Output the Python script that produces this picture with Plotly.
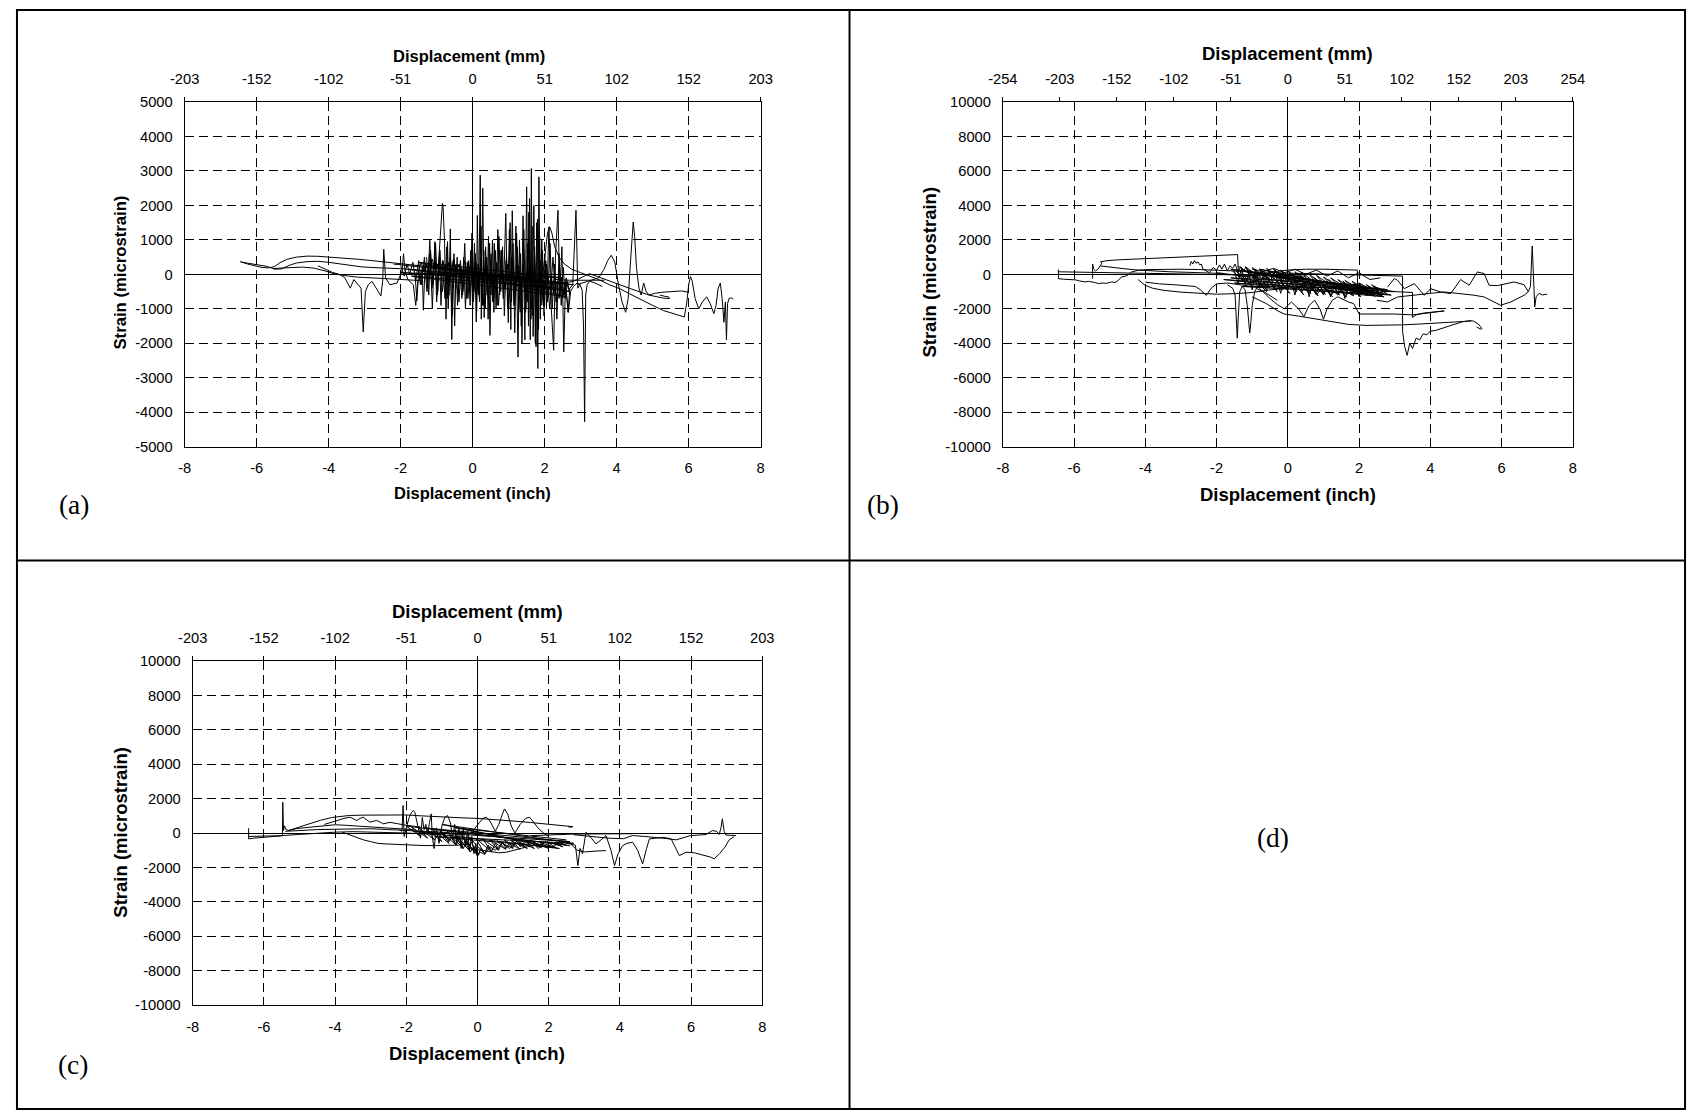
import plotly.graph_objects as go

# ---------------- tick values / labels ----------------
INCH_TICKS = [-8, -6, -4, -2, 0, 2, 4, 6, 8]
INCH_LABELS = ['-8', '-6', '-4', '-2', '0', '2', '4', '6', '8']
MM_TICKS_203 = [-203.2, -152.4, -101.6, -50.8, 0, 50.8, 101.6, 152.4, 203.2]
MM_LABELS_203 = ['-203', '-152', '-102', '-51', '0', '51', '102', '152', '203']
MM_TICKS_254 = [-254, -203.2, -152.4, -101.6, -50.8, 0, 50.8, 101.6, 152.4, 203.2, 254]
MM_LABELS_254 = ['-254', '-203', '-152', '-102', '-51', '0', '51', '102', '152', '203', '254']
STRAIN_TICKS_A = [-5000, -4000, -3000, -2000, -1000, 0, 1000, 2000, 3000, 4000, 5000]
STRAIN_LABELS_A = ['-5000', '-4000', '-3000', '-2000', '-1000', '0', '1000', '2000', '3000', '4000', '5000']
STRAIN_TICKS_BC = [-10000, -8000, -6000, -4000, -2000, 0, 2000, 4000, 6000, 8000, 10000]
STRAIN_LABELS_BC = ['-10000', '-8000', '-6000', '-4000', '-2000', '0', '2000', '4000', '6000', '8000', '10000']

# ---------------- panel (a) data: displacement (inch), strain (microstrain) ----------------
A1_X = [-6.45, -6.40, -6.25, -6.05, -5.85, -5.65, -5.50, -5.35, -5.15, -4.90, -4.60, -4.30, -4.00, -3.60, -3.20,
        -2.80, -2.40, -2.00, -1.60, -1.20, -0.80, -0.40, 0.00, 0.40, 0.80, 1.20, 1.60, 2.00, 2.40, 2.80, 3.25,
        3.80, 4.40, 4.90, 5.30, 5.47, 5.44, 5.35, 5.20]
A1_Y = [380, 350, 300, 240, 200, 190, 230, 340, 440, 500, 530, 525, 505, 470, 440,
        400, 360, 320, 270, 220, 160, 100, 40, -20, -80, -140, -200, -250, -280, -200, 20,
        -200, -420, -600, -690, -700, -650, -640, -600]
A2_X = [-6.45, -6.30, -6.10, -5.90, -5.70, -5.50, -5.30, -5.10, -4.90, -4.60, -4.30, -4.00, -3.70, -3.40,
        -3.10, -2.80, -2.50, -2.20, -1.90, -1.60, -1.30]
A2_Y = [360, 330, 290, 260, 230, 150, 160, 260, 330, 370, 380, 350, 300, 250,
        220, 200, 190, 180, 160, 130, 90]
A3_X = [-5.55, -5.30, -5.00, -4.70, -4.40, -4.10, -3.85, -3.60, -3.40, -3.20, -3.00, -2.80, -2.60, -2.40,
        -2.20, -2.00, -1.80, -1.60, -1.40]
A3_Y = [170, 190, 200, 210, 180, 100, 20, -30, -60, -80, -90, -100, -100, -110,
        -120, -130, -150, -170, -190]
A4_X = [-4.30, -4.10, -3.90, -3.70, -3.55, -3.40, -3.30, -3.20, -3.10, -3.04, -2.98, -2.90, -2.80, -2.65,
        -2.55, -2.50, -2.47, -2.42, -2.30, -2.10, -1.96, -1.92, -1.88, -1.80, -1.65, -1.58, -1.52, -1.45]
A4_Y = [250, 150, 60, 0, -100, -400, -150, -280, -400, -1670, -500, -300, -200, -450,
        -630, -200, 730, -100, -300, -250, 100, 600, 100, -150, -300, -900, -200, -100]
A5_X = [-1.60, -1.55, -1.50, -1.45, -1.40, -1.37, -1.32, -1.25, -1.19, -1.12,
        -1.05, -1.00, -0.95, -0.90, -0.86, -0.84, -0.82, -0.80, -0.78, -0.74,
        -0.70, -0.66, -0.62, -0.58, -0.54, -0.50, -0.46, -0.42, -0.36, -0.30,
        -0.25, -0.20, -0.15, -0.10, -0.05, 0.00, 0.05, 0.10, 0.13, 0.17,
        0.21, 0.24, 0.28, 0.32, 0.36, 0.40, 0.44, 0.48, 0.52, 0.56,
        0.60, 0.65, 0.70, 0.75, 0.80, 0.85, 0.92, 0.97, 1.02, 1.06,
        1.10, 1.15, 1.20, 1.26, 1.30, 1.35, 1.40, 1.45, 1.50, 1.53,
        1.56, 1.60, 1.63, 1.66, 1.70, 1.74, 1.78, 1.81, 1.84, 1.88,
        1.92, 1.96, 2.00, 2.05, 2.12, 2.18, 2.25, 2.30, 2.37, 2.42,
        2.48, 2.53, 2.58, 2.65, 2.70, 2.78, 2.87, 2.92, 3.00]
A5_Y = [0, -760, 100, -300, 200, -1040, 300, -400, 990, -1000,
        950, -800, 300, 1000, 1800, 2060, 1950, 1600, 900, -1300,
        950, -600, 1320, -1890, 400, -1500, 300, -900, 250, -700,
        500, -1000, 350, -400, 700, -1000, 900, -1380, 1710, -600,
        2880, -1300, 2500, -1250, 800, -600, 1100, -1770, 300, -800,
        900, -1000, 1300, -600, 700, -700, 1770, -1000, 1300, -1600,
        1850, -900, 1400, -2400, 1000, -1500, 1700, -1900, 2540, -800,
        1800, -1900, 3070, -1200, 2000, -2000, 1500, -2730, 2830, -1300,
        1000, -800, 600, -1000, 1380, -900, -2200, 500, 1860, -600,
        800, -2250, -200, -1100, -400, -300, 1860, -400, -250]
A6_X = [-2.00, -1.90, -1.82, -1.75, -1.66, -1.58, -1.50, -1.42, -1.34, -1.27,
        -1.20, -1.13, -1.06, -0.98, -0.91, -0.84, -0.76, -0.69, -0.62, -0.55,
        -0.48, -0.41, -0.34, -0.27, -0.20, -0.13, -0.06, 0.02, 0.09, 0.16,
        0.23, 0.30, 0.37, 0.44, 0.51, 0.58, 0.65, 0.72, 0.79, 0.86,
        0.93, 1.00, 1.08, 1.16, 1.24, 1.32, 1.40, 1.48, 1.56, 1.64,
        1.72, 1.80, 1.88, 1.96, 2.05, 2.14, 2.23, 2.32, 2.41, 2.50,
        2.60, 2.70]
A6_Y = [250, -50, 300, 0, 350, -200, 400, -300, 500, -500,
        600, -400, 400, -600, 700, -500, 300, -700, 500, -400,
        200, -600, 400, -500, 300, -700, 450, -800, 350, -600,
        500, -900, 300, -700, 600, -800, 200, -900, 700, -700,
        400, -1000, 500, -900, 800, -1100, 300, -1000, 900, -1000,
        600, -1200, 400, -900, 300, -1000, 500, -800, 200, -700,
        -100, -600]
A7_X = [-2.2, 2.6, -1.8, 2.7, -1.5, 2.5, -2.0, 2.8, -1.2, 2.6, -1.7, 2.4]
A7_Y = [300, -250, 150, -500, 350, -100, 50, -300, 250, -650, -50, -400]
A8_X = [1.95, 2.02, 2.08, 2.14, 2.20, 2.28, 2.40, 2.55, 2.75, 3.00,
        3.25, 3.50, 3.80, 4.10, 4.35, 4.70, 5.00, 5.30, 5.60, 5.88,
        5.95, 6.00, 6.05, 6.10, 6.18, 6.28, 6.38, 6.50, 6.60, 6.70,
        6.76, 6.82, 6.88, 6.93, 6.98, 7.02, 7.05, 7.08, 7.12, 7.18, 7.24]
A8_Y = [0, 700, 1200, 1380, 1200, 800, 500, 300, 150, 50,
        -50, -150, -300, -420, -560, -750, -900, -1050, -1150, -1235,
        -800, -300, -60, -200, -700, -1000, -800, -650, -850, -1140,
        -900, -400, -250, -700, -1390, -800, -1900, -850, -700, -680, -720]
A9_X = [2.90, 3.20, 3.50, 3.65, 3.75, 3.85, 3.95, 4.05, 4.15, 4.25,
        4.32, 4.38, 4.42, 4.46, 4.50, 4.55, 4.62, 4.68, 4.75, 4.82,
        4.90, 5.05, 5.25, 5.50, 5.80, 6.00]
A9_Y = [-300, -200, -100, 150, 400, 555, 350, -300, -800, -1100,
        -700, 300, 1100, 1520, 1100, 200, -400, -600, -250, -500,
        -600, -550, -520, -500, -480, -520]
A10_X = [2.55, 2.62, 2.66, 2.72, 2.80, 2.90, 2.98, 3.04, 3.08, 3.11, 3.14, 3.18, 3.25, 3.40, 3.60]
A10_Y = [-300, -700, -1100, -500, -350, -250, -300, -450, -1500, -4280, -600, -300, -200, -250, -350]
A11_X = [2.30, 2.69, 3.66]
A11_Y = [-150, -170, -170]
A12_X = [-1.28, -1.22, -1.17, -1.10, -1.03, -0.97, -0.92, -0.88, -0.83, -0.77,
         -0.72, -0.68, -0.63, -0.57, -0.52, -0.47, -0.43, -0.38, -0.33, -0.28,
         -0.22, -0.17, -0.12, -0.07, -0.02, 0.03, 0.08, 0.11, 0.15, 0.19,
         0.23, 0.27, 0.31, 0.35, 0.39, 0.43, 0.47, 0.51, 0.55, 0.59,
         0.63, 0.68, 0.73, 0.78, 0.83, 0.88, 0.94, 0.99, 1.04, 1.08,
         1.12, 1.17, 1.22, 1.28, 1.33, 1.37, 1.42, 1.47, 1.52, 1.55,
         1.58, 1.62, 1.65, 1.68, 1.72, 1.76, 1.80, 1.83, 1.86, 1.90,
         1.94, 1.98, 2.03, 2.08, 2.15, 2.21, 2.28, 2.34, 2.40, 2.46,
         2.52, 2.57, 2.63]
A12_Y = [500, -600, 700, -300, 900, -500, 600, -900, 400, -700,
         800, -1000, 300, -1200, 600, -400, 500, -800, 200, -600,
         900, -700, 400, -900, 1200, -500, 600, -1100, 300, -800,
         1400, -900, 700, -1000, 500, -1300, 900, -600, 1000, -1100,
         700, -900, 1100, -500, 800, -1200, 600, -1400, 1500, -800,
         900, -1700, 1200, -1000, 600, -2000, 1300, -1100, 900, -1500,
         2200, -1300, 1400, -1800, 800, -2100, 1600, -1600, 1100, -900,
         700, -1200, 400, -800, 900, -1000, 300, -1300, 600, -900,
         200, -700, -300]
A13_X = [2.70, 2.62, 2.55, 2.47, 2.40, 2.33, 2.25, 2.18, 2.10, 2.03,
         1.95, 1.87, 1.80, 1.72, 1.65, 1.57, 1.50, 1.42, 1.35, 1.27,
         1.20, 1.12, 1.05, 0.97, 0.90, 0.82, 0.75, 0.67, 0.60, 0.52,
         0.45, 0.37, 0.30, 0.22, 0.15, 0.07, 0.00, -0.08, -0.15, -0.23,
         -0.30, -0.38, -0.45, -0.53, -0.60, -0.68, -0.75, -0.83, -0.90, -0.98,
         -1.05, -1.13, -1.20, -1.28, -1.35, -1.43, -1.50]
A13_Y = [-500, -200, -600, -100, -700, -300, -550, 0, -650, -250,
         -400, 100, -600, -150, -450, 200, -500, -100, -350, 250,
         -450, 0, -300, 300, -400, 50, -250, 350, -300, 100,
         -150, 400, -250, 150, -100, 350, -200, 200, 0, 400,
         -100, 300, 50, 450, -50, 350, 100, 400, 0, 300,
         150, 450, 50, 300, 100, 350, 150]

# ---------------- panel (b) data ----------------
B1_X = [-6.44, -6.44, -6.30, -6.15, -6.07, -5.95, -5.85, -5.69, -5.60, -5.50,
        -5.40, -5.32, -5.20, -5.10, -4.95, -4.85, -4.75, -4.67, -4.55, -4.45,
        -4.39, -4.30, -4.20, -3.90, -3.50, -3.00, -2.50, -2.00, -1.50, -1.00, -0.50]
B1_Y = [280, -245, -280, -300, -340, -320, -380, -440, -400, -420,
        -480, -535, -500, -520, -440, -470, -330, -150, -100, 20,
        140, 180, 240, 280, 300, 300, 280, 250, 200, 130, 60]
B2_X = [-6.44, -5.50, -4.50, -3.50, -2.50, -1.50, -0.50, 0.50]
B2_Y = [150, 120, 80, 50, 20, -20, -60, -100]
B3_X = [-5.48, -5.48, -5.45, -5.40, -5.33, -5.26, -5.22, -5.26, -5.10, -4.80,
        -4.40, -4.01, -3.50, -3.00, -2.50, -2.00, -1.70, -1.41, -1.40, -1.38,
        -1.30, -1.10, -0.80, -0.40, 0.00, 0.50, 1.00, 1.50, 1.95, 1.96, 2.05, 2.20]
B3_Y = [-250, 600, 300, 200, 300, 500, 650, 720, 790, 840,
        880, 915, 950, 990, 1030, 1080, 1120, 1150, 600, -50,
        -100, -80, 0, 150, 250, 300, 300, 280, 250, -1000, -900, -1000]
B4_X = [-5.26, -5.00, -4.60, -4.20, -3.80, -3.30, -2.80, -2.30, -1.80]
B4_Y = [490, 420, 330, 250, 200, 150, 120, 80, 50]
B5_X = [-2.75, -2.71, -2.67, -2.62, -2.58, -2.52, -2.47, -2.43, -2.38, -2.30,
        -2.20, -2.10, -2.00, -1.92, -1.85, -1.78, -1.70, -1.62, -1.55, -1.48,
        -1.40, -1.32, -1.25, -1.18, -1.10]
B5_Y = [500, 750, 600, 800, 650, 720, 550, 600, 300, 200,
        100, 400, 250, 550, 300, 600, 200, 500, 350, 600,
        150, 450, 200, 400, 100]
B6_X = [-4.20, -4.01, -3.80, -3.50, -3.00, -2.50, -2.00, -1.50, -1.00, -0.50, 0.00]
B6_Y = [-300, -630, -800, -920, -1030, -1100, -1150, -1120, -1050, -900, -800]
B7_X = [-4.00, -3.60, -3.20, -2.80, -2.60, -2.45, -2.29, -2.15, -2.00, -1.70, -1.40, -1.00, -0.50]
B7_Y = [-450, -550, -600, -650, -700, -900, -1215, -800, -550, -500, -600, -700, -750]
B8_X = [-1.70, -1.55, -1.48, -1.45, -1.42, -1.39, -1.35, -1.28, -1.20, -1.14,
        -1.10, -1.07, -1.04, -1.00, -0.93, -0.85, -0.75, -0.60, -0.45, -0.30]
B8_Y = [-600, -800, -1200, -2500, -3700, -2400, -1000, -700, -900, -1800,
        -2800, -3400, -2800, -1800, -1000, -700, -900, -1100, -1300, -1500]
B9_X = [-0.90, -0.70, -0.50, -0.30, -0.10, 0.10, 0.30, 0.45, 0.60, 0.75,
        0.90, 1.00, 1.10, 1.25, 1.40, 1.55, 1.70, 1.85, 1.95, 2.00,
        2.50, 3.00, 3.50, 4.00, 4.39]
B9_Y = [-800, -1000, -1400, -1750, -2000, -1600, -2000, -2450, -1800, -1500,
        -2000, -2600, -2000, -1500, -1300, -1450, -1600, -1700, -2150, -2300,
        -2300, -2300, -2350, -2200, -2120]
B10_X = [-1.00, -0.60, -0.30, -0.10, 0.30, 0.80, 1.20, 1.70, 2.20, 2.70,
         3.20, 3.70, 4.20, 4.70, 5.00, 5.20, 5.35, 5.42, 5.45, 5.40, 5.30]
B10_Y = [-1300, -1700, -2100, -2300, -2420, -2600, -2750, -2900, -2960, -2960,
         -2930, -2880, -2820, -2730, -2690, -2700, -2880, -3050, -3150, -3170, -3050]
B11_X = [-0.50, 0.50, 1.50, 2.50, 3.00, 3.22, 3.22, 3.28, 3.35, 3.42,
         3.50, 3.60, 3.70, 3.80, 3.90, 4.00, 4.15, 4.30, 4.45, 4.60,
         4.75, 4.90, 5.05, 5.15]
B11_Y = [100, 50, 0, -50, -80, -100, -3300, -4200, -4700, -4000,
         -4300, -3700, -3800, -3450, -3500, -3300, -3250, -3150, -3050, -2950,
         -2850, -2750, -2700, -2680]
B12_X = [2.60, 3.00, 3.50, 3.50, 3.60, 3.80, 4.00, 4.20, 4.39]
B12_Y = [-1000, -1000, -1050, -2500, -2350, -2250, -2200, -2150, -2120]
B13_X = [2.80, 2.99, 3.08, 3.27, 3.55, 3.83, 4.01, 4.29, 4.57, 4.85,
         5.09, 5.32, 5.51, 5.65, 5.88, 6.35, 6.63, 6.75, 6.81, 6.86,
         6.93, 6.97, 7.05, 7.15, 7.23, 7.28]
B13_Y = [-730, -245, -342, -826, -536, -1213, -830, -1020, -1116, -300,
         -633, 141, 45, -633, -650, -439, -600, -1000, -700, 1650,
         -1890, -1300, -1100, -1200, -1150, -1174]
B14_X = [2.50, 2.80, 3.08, 3.50, 4.00, 4.39, 4.80, 5.20, 5.51, 5.75, 5.97, 6.26, 6.45, 6.63, 6.75]
B14_Y = [-1500, -1600, -1310, -1200, -1100, -1020, -1100, -1200, -1310, -1550, -1790, -1600, -1400, -1213, -1000]
B15_X = [-2.0, 2.6, -1.6, 2.8, -1.8, 2.4, -1.2, 3.0, -1.5, 2.7, -1.0, 2.2, -1.3, 2.9, -0.8, 2.5, -1.6, 2.0]
B15_Y = [100, -1100, 300, -900, -300, -1200, 200, -1000, -500, -1300, 100, -800, -700, -1200, 300, -1100, -200, -600]
B16_X = [-1.5, -1.4, -1.3, -1.2, -1.1, -1.0, -0.9, -0.8, -0.7, -0.6,
         -0.5, -0.4, -0.3, -0.2, -0.1, 0.0, 0.1, 0.2, 0.3, 0.4,
         0.5, 0.6, 0.7, 0.8, 0.9, 1.0, 1.1, 1.2, 1.3, 1.4,
         1.5, 1.6, 1.7, 1.8, 1.9, 2.0, 2.1, 2.2, 2.3, 2.4,
         2.5, 2.6, 2.7]
B16_Y = [200, -500, 350, -600, 100, -900, 300, -700, -100, -1000,
         200, -800, -300, -1100, 0, -900, -400, -1200, -200, -1000,
         -500, -1300, -300, -1100, -600, -1200, -400, -1300, -700, -1100,
         -500, -1400, -800, -1200, -600, -1300, -900, -1250, -700, -1150,
         -1000, -1300, -800]
B17_X = [-1.0, -0.7, -0.4, -0.1, 0.2, 0.5, 0.8, 1.1, 1.4, 1.7, 2.0, 2.3, 2.6]
B17_Y = [300, 150, 350, 100, 300, 0, 250, -100, 200, -200, 100, -300, -200]
B18_X = [-1.60, -1.20, -1.45, -1.00, -1.30, -0.85, -1.10, -0.65, -0.95, -0.50,
         -0.75, -0.30, -0.60, -0.15, -0.40, 0.05, -0.25, 0.25, -0.05, 0.45,
         0.15, 0.65, 0.35, 0.85, 0.55, 1.05, 0.75, 1.25, 0.95, 1.45,
         1.15, 1.65, 1.35, 1.85, 1.55, 2.05, 1.75, 2.25, 1.95, 2.45,
         2.15, 2.65, 2.35, 2.80]
B18_Y = [300, -500, 200, -700, 100, -600, 250, -900, 0, -800,
         150, -1000, -100, -900, 100, -1100, -200, -1000, 0, -1200,
         -300, -1100, -100, -1250, -400, -1150, -200, -1300, -500, -1200,
         -300, -1300, -600, -1250, -400, -1300, -700, -1200, -500, -1300,
         -800, -1250, -600, -1150]
B19_X = [2.70, 2.40, 2.60, 2.20, 2.45, 2.00, 2.25, 1.80, 2.05, 1.60,
         1.85, 1.40, 1.65, 1.20, 1.45, 1.00, 1.25, 0.80, 1.05, 0.60,
         0.85, 0.40, 0.65, 0.20, 0.45, 0.00, 0.25, -0.20, 0.05, -0.40,
         -0.15, -0.60, -0.35, -0.80, -0.55, -1.00, -0.75, -1.20, -0.95, -1.40]
B19_Y = [-900, -700, -1100, -600, -1000, -500, -950, -400, -900, -350,
         -850, -300, -800, -200, -750, -150, -700, -50, -650, 0,
         -600, 100, -550, 150, -500, 200, -450, 250, -400, 300,
         -350, 350, -300, 300, -250, 400, -200, 450, -150, 500]
B20_X = [0.5, 0.6, 0.7, 0.8, 0.9, 1.0, 1.1, 1.2, 1.3, 1.4, 1.5, 1.6,
         1.7, 1.8, 1.9, 2.0, 2.1, 2.2, 2.3, 2.4, 2.5, 2.6, 2.7, 2.8]
B20_Y = [-900, -1100, -800, -1200, -950, -1150, -850, -1250, -1000, -1200, -900, -1300,
         -1050, -1200, -950, -1250, -1050, -1150, -900, -1200, -1000, -1100, -850, -1000]

# ---------------- panel (c) data ----------------
C1_X = [-6.43, -6.43, -6.30, -6.10, -5.90, -5.70, -5.55, -5.48, -5.47, -5.45,
        -5.42, -5.38, -5.30, -5.10, -4.90, -4.60, -4.30, -4.00, -3.70, -3.40,
        -3.00, -2.60, -2.20, -1.80]
C1_Y = [280, -340, -300, -250, -230, -200, -180, -160, 1790, 150,
        420, 200, 150, 250, 300, 350, 420, 480, 450, 400,
        350, 300, 250, 200]
C2_X = [-5.30, -5.00, -4.70, -4.40, -4.10, -3.85, -3.60, -3.20, -2.80, -2.40,
        -2.00, -1.60, -1.20, -0.80, -0.40, 0.00, 0.50, 1.00, 1.50, 2.00,
        2.40, 2.62, 2.68, 2.64, 2.55]
C2_Y = [150, 350, 550, 750, 900, 980, 1020, 1040, 1050, 1060,
        1050, 1000, 950, 920, 880, 850, 790, 700, 610, 520,
        440, 420, 370, 340, 360]
C3_X = [-4.30, -3.96, -3.75, -3.58, -3.45, -3.39, -3.30, -3.21, -3.10, -3.02,
        -2.90, -2.83, -2.70, -2.65, -2.46, -2.20, -2.00, -1.80, -1.60]
C3_Y = [500, 727, 850, 920, 800, 727, 850, 920, 750, 630,
        700, 727, 600, 533, 620, 500, 450, 400, 350]
C4_X = [-3.80, -3.60, -3.39, -3.20, -3.00, -2.80, -2.60, -2.20, -1.80, -1.50, -1.15, -0.80, -0.50, -0.20]
C4_Y = [50, -100, -242, -400, -500, -600, -630, -680, -720, -727, -727, -720, -700, -650]
C5_X = [-6.43, -6.00, -5.50, -5.00, -4.50, -4.00, -3.50, -3.00, -2.50, -2.00, -1.50, -1.00]
C5_Y = [-200, -180, -150, -80, 0, 50, 80, 60, 30, 0, -50, -100]
C6_X = [-5.40, -5.00, -4.50, -4.00, -3.50, -3.00, -2.50, -2.00, -1.50, -1.00, -0.50]
C6_Y = [100, 150, 200, 220, 230, 250, 200, 150, 100, 50, -50]
C7_X = [-2.20, -2.12, -2.09, -2.06, -2.00, -1.92, -1.85, -1.80, -1.76, -1.72,
        -1.66, -1.60, -1.55, -1.50, -1.45, -1.40, -1.35, -1.30, -1.27, -1.22,
        -1.15, -1.08, -1.00, -0.92, -0.84, -0.76, -0.70, -0.64, -0.58, -0.52,
        -0.46, -0.40, -0.34, -0.28, -0.22, -0.16, -0.10, -0.05, 0.00]
C7_Y = [200, 100, 1600, -200, 300, 900, 1200, 1308, 1200, 800,
        200, -300, 900, 200, 500, -100, 600, 1114, -200, -900,
        300, -600, 400, 900, 1017, 600, -300, 500, -600, 300,
        -900, 200, -800, 100, -1000, -200, -1200, -600, -1400]
C8_X = [-1.0, -0.8, -0.6, -0.45, -0.3, -0.15, -0.05, 0.0, 0.08, 0.2, 0.35,
        0.5, 0.7, 0.9, 1.1, 1.3, 1.5, 1.7, 1.9, 2.1, 2.3, 2.5]
C8_Y = [0, -400, -200, -700, -400, -1000, -800, -1350, -1100, -1250, -800,
        -1000, -600, -900, -500, -800, -400, -900, -500, -850, -550, -700]
C9_X = [-2.0, 2.5, -1.5, 2.6, -1.8, 2.3, -1.0, 2.7, -1.2, 2.0, -0.6, 2.5]
C9_Y = [400, -700, 300, -500, 100, -900, 500, -600, -200, -800, 300, -400]
C10_X = [-0.30, -0.10, 0.05, 0.15, 0.25, 0.35, 0.50, 0.60, 0.70, 0.76,
         0.85, 0.95, 1.05, 1.20, 1.35, 1.46, 1.55, 1.70, 1.85, 2.00]
C10_Y = [-200, 200, 600, 850, 920, 700, 100, 500, 1100, 1400,
         1100, 400, 0, 500, 850, 920, 700, 300, 0, -200]
C11_X = [-0.2, 0.1, 0.4, 0.6, 0.81, 1.0, 1.2, 1.4, 1.6]
C11_Y = [-900, -1000, -1100, -1150, -1114, -1000, -900, -800, -700]
C12_X = [2.50, 2.75, 2.82, 2.88, 2.95, 3.05, 3.20, 3.33, 3.47, 3.61,
         3.75, 3.85, 3.95, 4.08, 4.20, 4.36, 4.50, 4.64, 4.75, 4.83,
         5.00, 5.20, 5.35, 5.44, 5.55, 5.67, 5.78, 5.86, 6.10, 6.42,
         6.55, 6.65, 6.80, 6.95, 7.07, 7.21]
C12_Y = [-600, -700, -1889, -900, -1200, 48, -300, -630, -400, -145,
         -1000, -1889, -1200, -727, -600, -533, -1000, -1792, -900, -339,
         -300, -250, -300, -339, -800, -1308, -1200, -1114, -1150, -1308,
         -1400, -1502, -1200, -824, -400, -200]
C13_X = [2.70, 3.20, 3.70, 4.10, 4.36, 4.70, 5.01, 5.30, 5.58, 5.80, 5.99,
         6.20, 6.42, 6.60, 6.72, 6.79, 6.84, 6.88, 6.93, 6.98, 7.10, 7.26]
C13_Y = [-100, -200, -300, -330, -145, -200, -242, -320, -397, -250, -145,
         -120, -87, 145, 100, -87, 300, 824, 100, -120, -140, -145]
C14_X = [1.5, 2.7, 3.5, 4.36]
C14_Y = [-150, -60, -50, -40]
C15_X = [2.3, 2.6, 2.8, 3.0, 3.3, 3.61]
C15_Y = [-500, -600, -1000, -1100, -1050, -1020]
C16_X = [-2.00, -1.60, -1.85, -1.40, -1.65, -1.20, -1.45, -1.00, -1.25, -0.80,
         -1.05, -0.60, -0.85, -0.40, -0.65, -0.20, -0.45, 0.00, -0.25, 0.20,
         -0.05, 0.40, 0.15, 0.60, 0.35, 0.80, 0.55, 1.00, 0.75, 1.20,
         0.95, 1.40, 1.15, 1.60, 1.35, 1.80, 1.55, 2.00, 1.75, 2.20,
         1.95, 2.40, 2.15, 2.60]
C16_Y = [400, -200, 350, -300, 300, -400, 250, -500, 200, -600,
         150, -700, 100, -900, 0, -1100, -100, -1300, -200, -1200,
         -300, -1100, -350, -1000, -400, -950, -450, -900, -400, -950,
         -450, -900, -500, -900, -450, -850, -500, -900, -550, -850,
         -500, -800, -550, -750]
C17_X = [-0.90, -0.80, -0.70, -0.60, -0.50, -0.40, -0.30, -0.20, -0.10, 0.00,
         0.10, 0.20, 0.30, 0.40, 0.50, 0.60, 0.70, 0.80, 0.90, 1.00,
         1.10, 1.20, 1.30, 1.40, 1.50]
C17_Y = [-100, -500, -200, -700, -300, -900, -500, -1100, -800, -1300,
         -900, -1200, -700, -1050, -600, -950, -500, -900, -600, -850,
         -450, -800, -550, -750, -400]

PANEL_A = [(A1_X, A1_Y), (A2_X, A2_Y), (A3_X, A3_Y), (A4_X, A4_Y), (A6_X, A6_Y), (A7_X, A7_Y),
           (A13_X, A13_Y), (A12_X, A12_Y), (A5_X, A5_Y), (A8_X, A8_Y), (A9_X, A9_Y),
           (A10_X, A10_Y), (A11_X, A11_Y)]
PANEL_B = [(B1_X, B1_Y), (B2_X, B2_Y), (B3_X, B3_Y), (B4_X, B4_Y), (B5_X, B5_Y), (B6_X, B6_Y),
           (B7_X, B7_Y), (B8_X, B8_Y), (B9_X, B9_Y), (B10_X, B10_Y), (B11_X, B11_Y), (B12_X, B12_Y),
           (B13_X, B13_Y), (B14_X, B14_Y), (B15_X, B15_Y), (B16_X, B16_Y), (B17_X, B17_Y),
           (B18_X, B18_Y), (B19_X, B19_Y), (B20_X, B20_Y)]
PANEL_C = [(C1_X, C1_Y), (C2_X, C2_Y), (C3_X, C3_Y), (C4_X, C4_Y), (C5_X, C5_Y), (C6_X, C6_Y),
           (C7_X, C7_Y), (C8_X, C8_Y), (C9_X, C9_Y), (C10_X, C10_Y), (C11_X, C11_Y), (C12_X, C12_Y),
           (C13_X, C13_Y), (C14_X, C14_Y), (C15_X, C15_Y), (C16_X, C16_Y), (C17_X, C17_Y)]

# ---------------- layout geometry (pixels) ----------------
W, H = 1699, 1119


def px(x):
    return x / W


def py(y):
    return 1 - y / H


# page positions (pixels) of the plot areas: (left, right, top, bottom)
BOX_A = (172.4, 757.7, 95.4, 445.1)
BOX_B = (1003.8, 1583.0, 95.4, 445.1)
BOX_C = (180.6, 759.3, 662.4, 1011.6)

SANS = 'Liberation Sans, Arial, sans-serif'
SERIF = 'Liberation Serif, Times New Roman, serif'
TICKFONT = dict(family=SANS, size=14.7, color='black')
GRIDDASH = '9px,5px'

fig = go.Figure()


def add_panel(series, xa, xa_top, ya):
    for xs, ys in series:
        fig.add_trace(go.Scatter(x=xs, y=ys, mode='lines', xaxis=xa, yaxis=ya,
                                 line=dict(color='black', width=1), showlegend=False,
                                 hoverinfo='skip'))
    fig.add_trace(go.Scatter(x=[], y=[], xaxis=xa_top, yaxis=ya, mode='lines', showlegend=False,
                             hoverinfo='skip'))


add_panel(PANEL_A, 'x', 'x2', 'y')
add_panel(PANEL_B, 'x3', 'x4', 'y2')
add_panel(PANEL_C, 'x5', 'x6', 'y3')


def xbottom(box, yid):
    return dict(domain=[px(box[0]), px(box[1])], anchor=yid, range=[-8, 8], tickmode='array',
                tickvals=INCH_TICKS, ticktext=INCH_LABELS, showgrid=True, gridcolor='black',
                gridwidth=1, griddash=GRIDDASH, zeroline=True, zerolinecolor='black', zerolinewidth=1,
                showline=True, linecolor='black', linewidth=1, mirror=True, ticks='',
                tickfont=TICKFONT, ticklabelstandoff=8, fixedrange=True)


def xtop(box, xid, yid, rng, vals, labels):
    return dict(domain=[px(box[0]), px(box[1])], overlaying=xid, side='top', anchor=yid, range=rng,
                tickmode='array', tickvals=vals, ticktext=labels, showgrid=False, zeroline=False,
                showline=True, linecolor='black', linewidth=1, ticks='outside', ticklen=4,
                tickcolor='black', tickfont=TICKFONT, ticklabelstandoff=7, fixedrange=True)


def yleft(box, xid, rng, vals, labels):
    return dict(domain=[py(box[3]), py(box[2])], anchor=xid, range=rng, tickmode='array',
                tickvals=vals, ticktext=labels, showgrid=True, gridcolor='black', gridwidth=1,
                griddash=GRIDDASH, zeroline=True, zerolinecolor='black', zerolinewidth=1,
                showline=True, linecolor='black', linewidth=1, mirror=True, ticks='',
                tickfont=TICKFONT, ticklabelstandoff=8, fixedrange=True)


fig.update_layout(
    width=W, height=H, margin=dict(l=0, r=0, t=0, b=0),
    paper_bgcolor='white', plot_bgcolor='white', showlegend=False,
    xaxis=xbottom(BOX_A, 'y'),
    xaxis2=xtop(BOX_A, 'x', 'y', [-203.2, 203.2], MM_TICKS_203, MM_LABELS_203),
    yaxis=yleft(BOX_A, 'x', [-5000, 5000], STRAIN_TICKS_A, STRAIN_LABELS_A),
    xaxis3=xbottom(BOX_B, 'y2'),
    xaxis4=xtop(BOX_B, 'x3', 'y2', [-254, 254], MM_TICKS_254, MM_LABELS_254),
    yaxis2=yleft(BOX_B, 'x3', [-10000, 10000], STRAIN_TICKS_BC, STRAIN_LABELS_BC),
    xaxis5=xbottom(BOX_C, 'y3'),
    xaxis6=xtop(BOX_C, 'x5', 'y3', [-203.2, 203.2], MM_TICKS_203, MM_LABELS_203),
    yaxis3=yleft(BOX_C, 'x5', [-10000, 10000], STRAIN_TICKS_BC, STRAIN_LABELS_BC),
)

# panel frames
shapes = [
    dict(type='rect', x0=px(2), x1=px(1697), y0=py(1117), y1=py(2)),
    dict(type='line', x0=px(848), x1=px(848), y0=py(1117), y1=py(2)),
    dict(type='line', x0=px(2), x1=px(1697), y0=py(560.6), y1=py(560.6)),
]
for s in shapes:
    s.update(xref='paper', yref='paper', line=dict(color='black', width=2), layer='above')
fig.update_layout(shapes=shapes)


def label(text, x, y, size, family=SANS, angle=0):
    fig.add_annotation(text=text, x=px(x), y=py(y), xref='paper', yref='paper', showarrow=False,
                       xanchor='center', yanchor='middle', textangle=angle,
                       font=dict(family=family, size=size, color='black'))


# axis titles
label('<b>Displacement (mm)</b>', 461.0, 48.2, 16.5)
label('<b>Displacement (inch)</b>', 465.1, 492.4, 16.5)
label('<b>Strain (microstrain)</b>', 107.5, 268.6, 16.7, angle=-90)
label('<b>Displacement (mm)</b>', 1292.8, 46.0, 18.5)
label('<b>Displacement (inch)</b>', 1293.3, 493.5, 18.5)
label('<b>Strain (microstrain)</b>', 929.1, 268.1, 18.5, angle=-90)
label('<b>Displacement (mm)</b>', 469.9, 612.2, 18.5)
label('<b>Displacement (inch)</b>', 469.9, 1060.9, 18.5)
label('<b>Strain (microstrain)</b>', 106.3, 836.0, 18.5, angle=-90)
# panel letters
label('(a)', 59.6, 504.5, 27.4, SERIF)
label('(b)', 881.9, 504.5, 27.4, SERIF)
label('(c)', 59.1, 1071.9, 27.4, SERIF)
label('(d)', 1278.5, 842.1, 27.4, SERIF)

fig.write_html('out.html', include_plotlyjs=True, config={'displayModeBar': False},
               post_script="document.body.style.margin='0';")
